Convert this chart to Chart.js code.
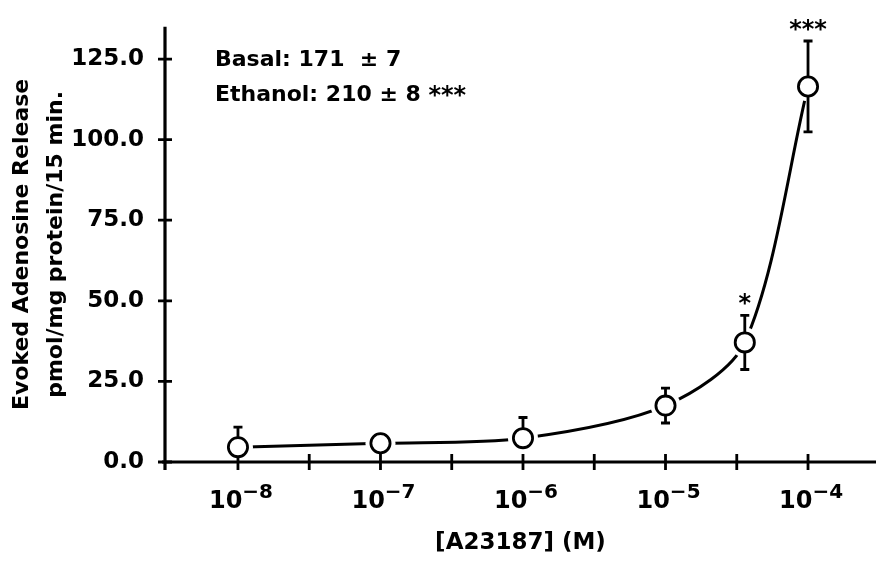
<!DOCTYPE html>
<html>
<head>
<meta charset="utf-8">
<script src="https://cdn.jsdelivr.net/npm/chart.js@4.4.1/dist/chart.umd.min.js"></script>
<style>
  html, body { margin: 0; padding: 0; background: #ffffff; overflow: hidden; }
  #wrap { width: 876px; height: 562px; position: relative; overflow: hidden; }
</style>
</head>
<body>
<div id="wrap"><canvas id="c"></canvas></div>
<script>
// ---- data ----
const concentrations = [1e-8, 1e-7, 1e-6, 1e-5, 3.6e-5, 1e-4];   // [A23187] (M)
const releaseMean    = [4.6, 5.8, 7.4, 17.5, 37.1, 116.5];          // pmol/mg protein/15 min
const errorUp        = [6.2, 1.0, 6.4, 5.4, 8.4, 14.1];             // upper error bar length
const errorDown      = [0, 1.0, 0, 5.4, 8.4, 14.1];                 // lower bar (0 = not visible)
const significance   = ['', '', '', '', '*', '***'];
const yTickValues    = [0, 25, 50, 75, 100, 125];
const xTickExponents = [-8, -7.5, -7, -6.5, -6, -5.5, -5, -4.5, -4];
const xLabelExponents = [-8, -7, -6, -5, -4];
const xLabelTexts    = ['\u22128', '\u22127', '\u22126', '\u22125', '\u22124'];
const annotationLines = ['Basal: 171  \u00b1 7', 'Ethanol: 210 \u00b1 8 '];
const annotationStars = ['', '***'];
const xTitle = '[A23187] (M)';
const yTitle = ['Evoked Adenosine Release', 'pmol/mg protein/15 min.'];

const FONT = '"DejaVu Sans", sans-serif';
const points = concentrations.map((c, i) => ({ x: c, y: releaseMean[i] }));

const decor = {
  id: 'decor',
  afterDatasetDraw(chart, args) {
    if (args.index !== 1) return;           // after white halos, before circles
    const ctx = chart.ctx, xs = chart.scales.x, ys = chart.scales.y, a = chart.chartArea;
    ctx.save();
    ctx.strokeStyle = '#000'; ctx.lineCap = 'butt';
    // axes
    ctx.lineWidth = 3.2;
    ctx.beginPath();
    ctx.moveTo(a.left, a.top); ctx.lineTo(a.left, a.bottom + 8);
    ctx.moveTo(a.left - 3, a.bottom); ctx.lineTo(a.right, a.bottom);
    ctx.stroke();
    // ticks
    ctx.lineWidth = 2.8;
    ctx.beginPath();
    ys.ticks.forEach(t => {
      const y = ys.getPixelForValue(t.value);
      ctx.moveTo(a.left - 7, y); ctx.lineTo(a.left + 7, y);
    });
    xs.ticks.forEach(t => {
      const x = xs.getPixelForValue(t.value);
      ctx.moveTo(x, a.bottom - 8); ctx.lineTo(x, a.bottom + 8);
    });
    ctx.stroke();
    // error bars
    ctx.lineWidth = 2.8;
    concentrations.forEach((c, i) => {
      const x = xs.getPixelForValue(c);
      const yMid = ys.getPixelForValue(releaseMean[i]);
      ctx.beginPath();
      if (errorUp[i] > 0) {
        const yTop = ys.getPixelForValue(releaseMean[i] + errorUp[i]);
        ctx.moveTo(x, yMid); ctx.lineTo(x, yTop);
        ctx.moveTo(x - 4.5, yTop); ctx.lineTo(x + 4.5, yTop);
      }
      if (errorDown[i] > 0) {
        const yBot = ys.getPixelForValue(releaseMean[i] - errorDown[i]);
        ctx.moveTo(x, yMid); ctx.lineTo(x, yBot);
        ctx.moveTo(x - 4.5, yBot); ctx.lineTo(x + 4.5, yBot);
      }
      ctx.stroke();
    });
    ctx.restore();
  },
  afterDraw(chart) {
    const ctx = chart.ctx, xs = chart.scales.x, ys = chart.scales.y;
    ctx.save();
    ctx.fillStyle = '#000';
    // x tick labels 10^n
    xLabelExponents.forEach((e, i) => {
      const x = xs.getPixelForValue(Math.pow(10, e)) + 3;
      ctx.font = 'bold 24px ' + FONT;
      const wBase = ctx.measureText('10').width;
      ctx.font = 'bold 20px ' + FONT;
      const wSup = ctx.measureText(xLabelTexts[i]).width;
      const start = x - (wBase + wSup) / 2;
      ctx.textBaseline = 'alphabetic'; ctx.textAlign = 'left';
      ctx.font = 'bold 24px ' + FONT;
      ctx.fillText('10', start, 508);
      ctx.font = 'bold 20px ' + FONT;
      ctx.fillText(xLabelTexts[i], start + wBase, 498);
    });
    // significance stars
    ctx.font = 'bold 24px ' + FONT;
    ctx.textAlign = 'center'; ctx.textBaseline = 'alphabetic';
    significance.forEach((s, i) => {
      if (!s) return;
      const x = xs.getPixelForValue(concentrations[i]);
      const yTop = ys.getPixelForValue(releaseMean[i] + errorUp[i]);
      const m = ctx.measureText(s);
      const target = yTop - 16;
      ctx.fillText(s, x, target + (m.actualBoundingBoxAscent - m.actualBoundingBoxDescent) / 2);
    });
    // annotation
    ctx.textAlign = 'left';
    const baselines = [66, 101];
    annotationLines.forEach((t, i) => {
      ctx.font = 'bold 22px ' + FONT;
      ctx.fillText(t, 215, baselines[i]);
      if (annotationStars[i]) {
        const w = ctx.measureText(t).width;
        ctx.font = 'bold 24px ' + FONT;
        ctx.fillText(annotationStars[i], 215 + w, baselines[i] + 2);
      }
    });
    ctx.restore();
  }
};

new Chart(document.getElementById('c'), {
  type: 'line',
  data: {
    datasets: [
      { // curve
        data: points, order: 3, borderColor: '#000', borderWidth: 3,
        pointRadius: 0, tension: 0.3, fill: false, clip: false
      },
      { // white halos that leave a gap between curve and symbols
        data: points, order: 2, showLine: false, pointRadius: 15,
        pointBackgroundColor: '#fff', pointBorderWidth: 0, pointBorderColor: '#fff', clip: false
      },
      { // open circles
        data: points, order: 1, showLine: false, pointRadius: 9.6,
        pointBackgroundColor: '#fff', pointBorderColor: '#000', pointBorderWidth: 2.8, clip: false
      }
    ]
  },
  options: {
    responsive: true, maintainAspectRatio: false, animation: false,
    devicePixelRatio: 1,
    layout: { autoPadding: false, padding: { top: 22, right: 0, left: 0, bottom: 0 } },
    plugins: { legend: { display: false }, tooltip: { enabled: false } },
    scales: {
      x: {
        type: 'logarithmic',
        min: Math.pow(10, -8.512), max: Math.pow(10, -3.523),
        grid: { display: false }, border: { display: false },
        afterBuildTicks: (s) => { s.ticks = xTickExponents.map(e => ({ value: Math.pow(10, e) })); },
        ticks: { callback: () => '', autoSkip: false, maxRotation: 0 },
        afterFit: (s) => { s.height = 100; },
        title: { display: true, text: xTitle, color: '#000',
                 font: { family: FONT, size: 23, weight: 'bold' }, padding: { top: 0, bottom: 5 } }
      },
      y: {
        type: 'linear', min: 0, max: 135,
        grid: { display: false }, border: { display: false },
        afterBuildTicks: (s) => { s.ticks = yTickValues.map(v => ({ value: v })); },
        ticks: { color: '#000', padding: 13, font: { family: FONT, size: 23, weight: 'bold' },
                 callback: (v) => Number(v).toFixed(1) },
        afterFit: (s) => { s.width = 165; },
        title: { display: true, text: yTitle, color: '#000',
                 font: { family: FONT, size: 22, weight: 'bold', lineHeight: 1.55 }, padding: { top: 5, bottom: 0 } }
      }
    }
  },
  plugins: [decor]
});
</script>
</body>
</html>
